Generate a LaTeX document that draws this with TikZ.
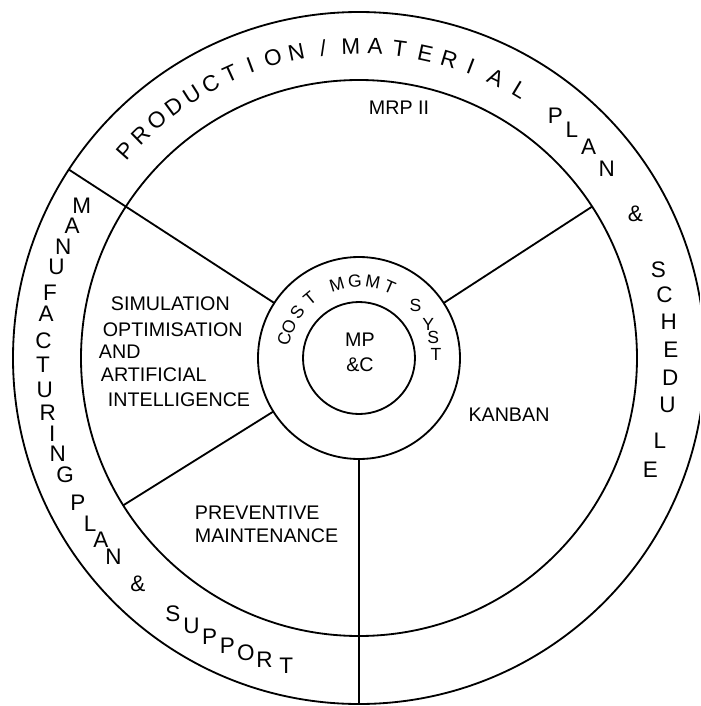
\documentclass[tikz,border=0pt]{standalone}
\usepackage{fontspec}
\setmainfont{Liberation Sans}
\usetikzlibrary{calc}
\newcommand{\slashch}{/}

\begin{document}
\begin{tikzpicture}[x=0.025cm,y=0.025cm,line width=1.3pt,
  bandtxt/.style={font=\fontsize{16}{16}\selectfont,inner sep=0pt},
  hubtxt/.style={font=\fontsize{12.5}{12.5}\selectfont,inner sep=0pt},
  sectxt/.style={font=\fontsize{14}{14}\selectfont,inner sep=0pt}]
  % centre at px (359,358) of a 700x706 frame
  \clip (-359,-348) rectangle (341,358);
  \coordinate (O) at (0,0);
  % rings
  \draw (O) circle (346);
  \draw (O) circle (278);
  \draw (O) circle (101);
  \draw (O) circle (56);
  % spokes
  \foreach \ang/\rr [count=\i] in {147/346, 270/346, 33/278, 212/278}{
    \coordinate (in\i) at (\ang:101);
    \coordinate (out\i) at (\ang:\rr);
    \draw (in\i) -- (out\i);}
  % outer band, top (letters follow the arc)
  \foreach \ch/\ang [count=\i] in {P/138.4, R/134.4, O/130.4, D/126.4, U/122.4,
      C/118.4, T/114.4, I/110.4, O/106, N/101.6, \slashch/96.6, M/91.5, A/87,
      T/82.5, E/77.7, R/73.2, I/69, A/64, L/59}
    \node[bandtxt,rotate=\ang-90] (pm\i) at (\ang:312) {\ch};
  % outer band, right
  \foreach \ch/\ang [count=\i] in {P/51, L/47, A/42.6, N/37.4, \&/27.6, S/16.4,
      C/11.7, H/6.7, E/1.5, D/-3.7, U/-8.7, L/-15.3, E/-20.9}
    \node[bandtxt] (ps\i) at (\ang:312) {\ch};
  % outer band, left
  \foreach \ch/\ang [count=\i] in {M/151.3, A/155.2, N/159.4, U/163.2, F/168,
      A/171.9, C/176.8, T/181.3, U/185.8, R/189.9, I/193.9, N/197.6, G/201.6,
      P/207.2, L/211.7, A/215.2, N/219, \&/225.6, S/233.9, U/238, P/241.8,
      P/245.4, O/249, R/252.6, T/256.7}
    \node[bandtxt] (mf\i) at (\ang:316) {\ch};
  % hub ring
  \foreach \ch/\ang [count=\i] in {C/165.4, O/155.7, S/143.3, T/129.7,
      M/106.7, G/93, M/79.5, T/66.5}
    \node[hubtxt,rotate=\ang-90] (cm\i) at (\ang:77) {\ch};
  \foreach \ch/\ang [count=\i] in {S/42.9, Y/25.9, S/15.3, T/2.9}
    \node[hubtxt] (sy\i) at (\ang:77) {\ch};
  \node[sectxt] (mp) at (1,18) {MP};
  \node[sectxt] (mpc) at (1,-7) {\&C};
  % sectors
  \node[sectxt] (mrp) at (40,250) {MRP II};
  \node[sectxt,anchor=west] (sim) at (-249,54) {SIMULATION};
  \node[sectxt,anchor=west] (opt) at (-257,28) {OPTIMISATION};
  \node[sectxt,anchor=west] (and) at (-261,6) {AND};
  \node[sectxt,anchor=west] (art) at (-259,-17) {ARTIFICIAL};
  \node[sectxt,anchor=west] (int) at (-252,-42) {INTELLIGENCE};
  \node[sectxt] (kan) at (150,-57) {KANBAN};
  \node[sectxt,anchor=west] (prev) at (-165,-155) {PREVENTIVE};
  \node[sectxt,anchor=west] (mnt) at (-165,-178) {MAINTENANCE};
\end{tikzpicture}
\end{document}
